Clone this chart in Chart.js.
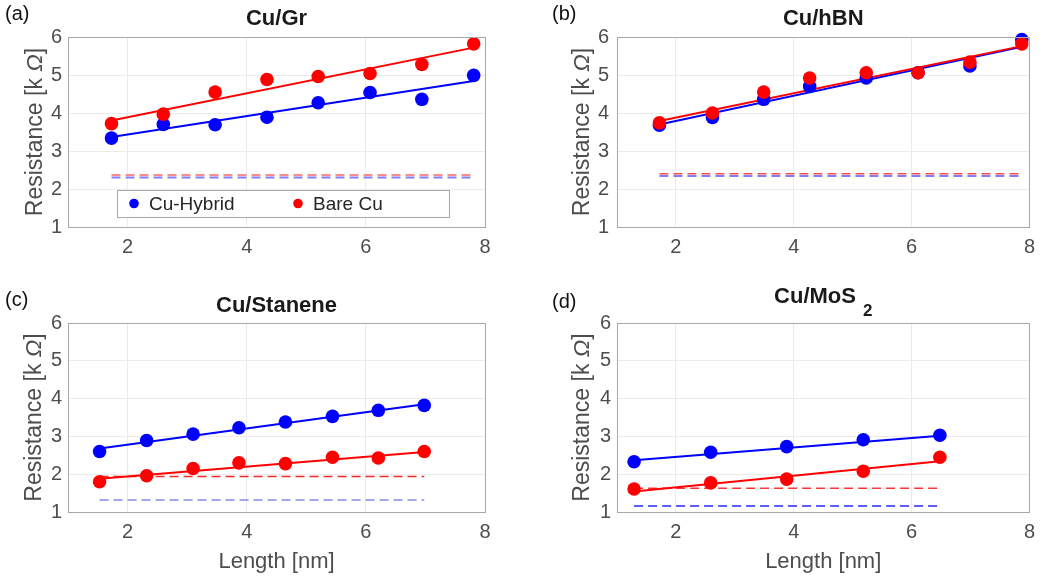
<!DOCTYPE html>
<html>
<head>
<meta charset="utf-8">
<script src="https://cdn.jsdelivr.net/npm/chart.js@4.4.1/dist/chart.umd.min.js"></script>
<style>
  body { margin: 0; background: #fff; }
  canvas { position: absolute; }
</style>
</head>
<body>
<canvas id="cA" width="520" height="280" style="left:0;top:0"></canvas>
<canvas id="cB" width="523" height="280" style="left:520px;top:0"></canvas>
<canvas id="cC" width="520" height="299" style="left:0;top:280px"></canvas>
<canvas id="cD" width="523" height="299" style="left:520px;top:280px"></canvas>
<script>
const seriesNames = ['Cu-Hybrid', 'Bare Cu'];
const xTicks = [2, 4, 6, 8];
const yTicks = [1, 2, 3, 4, 5, 6];

// (a) Cu/Gr
const lenGr = [1.73, 2.6, 3.47, 4.34, 5.2, 6.07, 6.94, 7.81];
const hybridGr = [3.34, 3.70, 3.69, 3.89, 4.27, 4.54, 4.36, 4.99];
const bareGr = [3.72, 3.97, 4.55, 4.88, 4.96, 5.04, 5.28, 5.82];
const fitHybridGr = [3.37, 4.84];
const fitBareGr = [3.80, 5.72];
const refHybridGr = 2.30;
const refBareGr = 2.37;

// (b) Cu/hBN
const lenHbn = [1.72, 2.62, 3.49, 4.27, 5.23, 6.11, 6.99, 7.87];
const hybridHbn = [3.68, 3.88, 4.36, 4.70, 4.92, 5.06, 5.24, 5.93];
const bareHbn = [3.74, 4.00, 4.55, 4.92, 5.06, 5.06, 5.34, 5.82];
const fitHybridHbn = [3.70, 5.74];
const fitBareHbn = [3.79, 5.76];
const refHybridHbn = 2.34;
const refBareHbn = 2.40;

// (c) Cu/Stanene
const lenSn = [1.53, 2.32, 3.10, 3.87, 4.65, 5.44, 6.21, 6.98];
const hybridSn = [2.60, 2.89, 3.06, 3.23, 3.38, 3.53, 3.69, 3.82];
const bareSn = [1.80, 1.96, 2.15, 2.30, 2.28, 2.45, 2.43, 2.60];
const fitHybridSn = [2.68, 3.85];
const fitBareSn = [1.88, 2.59];
const refHybridSn = 1.32;
const refBareSn = 1.94;

// (d) Cu/MoS2
const lenMos = [1.29, 2.59, 3.88, 5.18, 6.48];
const hybridMos = [2.33, 2.58, 2.73, 2.91, 3.03];
const bareMos = [1.61, 1.77, 1.87, 2.08, 2.45];
const fitHybridMos = [2.37, 3.02];
const fitBareMos = [1.54, 2.34];
const refHybridMos = 1.16;
const refBareMos = 1.63;

const FONT = "'Liberation Sans', Arial, Helvetica, sans-serif";
const AXIS_COLOR = '#4d4d4d';

function pts(xs, ys) {
  return xs.map((x, i) => ({ x: x, y: ys[i] }));
}
function ends(xs, pair) {
  return [{ x: xs[0], y: pair[0] }, { x: xs[xs.length - 1], y: pair[1] }];
}
function flat(xs, v) {
  return [{ x: xs[0], y: v }, { x: xs[xs.length - 1], y: v }];
}

const decor = {
  id: 'decor',
  afterDraw(chart, args, o) {
    const ctx = chart.ctx;
    const a = chart.chartArea;
    const cx = (a.left + a.right) / 2;
    ctx.save();
    // axes box
    ctx.strokeStyle = '#a8a8a8';
    ctx.lineWidth = 1;
    ctx.strokeRect(Math.round(a.left) + 0.5, Math.round(a.top) + 0.5,
      Math.round(a.right - a.left), Math.round(a.bottom - a.top));

    // panel letter
    ctx.fillStyle = '#111';
    ctx.font = '20px ' + FONT;
    ctx.textAlign = 'left';
    ctx.textBaseline = 'middle';
    ctx.fillText(o.letter, o.letterX, o.letterY);

    // title
    ctx.font = 'bold 22px ' + FONT;
    ctx.fillStyle = '#1a1a1a';
    if (o.sub) {
      const w1 = ctx.measureText(o.title).width;
      ctx.font = 'bold 17px ' + FONT;
      const w2 = ctx.measureText(o.sub).width;
      const gap = 7;
      const x0 = cx - (w1 + gap + w2) / 2;
      ctx.textAlign = 'left';
      ctx.font = 'bold 22px ' + FONT;
      ctx.fillText(o.title, x0, o.titleY);
      ctx.font = 'bold 17px ' + FONT;
      ctx.fillText(o.sub, x0 + w1 + gap, o.titleY + 14);
    } else {
      ctx.textAlign = 'center';
      ctx.fillText(o.title, cx, o.titleY);
    }

    // y label with italic omega
    ctx.fillStyle = AXIS_COLOR;
    ctx.translate(o.yLabelX, (a.top + a.bottom) / 2);
    ctx.rotate(-Math.PI / 2);
    const p1 = 'Resistance [k ', p2 = '\u03A9', p3 = ']';
    ctx.font = '23px ' + FONT;
    const w1 = ctx.measureText(p1).width, w3 = ctx.measureText(p3).width;
    ctx.font = 'italic 23px ' + FONT;
    const w2 = ctx.measureText(p2).width;
    let x = -(w1 + w2 + w3) / 2;
    ctx.textAlign = 'left';
    ctx.font = '23px ' + FONT;
    ctx.fillText(p1, x, 0);
    ctx.font = 'italic 23px ' + FONT;
    ctx.fillText(p2, x + w1, 0);
    ctx.font = '23px ' + FONT;
    ctx.fillText(p3, x + w1 + w2, 0);
    ctx.restore();

    // x label
    if (o.xLabel) {
      ctx.save();
      ctx.fillStyle = AXIS_COLOR;
      ctx.font = '22px ' + FONT;
      ctx.textAlign = 'center';
      ctx.textBaseline = 'middle';
      ctx.fillText(o.xLabel, cx, a.bottom + 50);
      ctx.restore();
    }

    // legend
    if (o.legend) {
      const lx = a.left + 49, ly = a.top + 153, lw = 332, lh = 27;
      ctx.save();
      ctx.fillStyle = '#fff';
      ctx.fillRect(lx, ly, lw, lh);
      ctx.strokeStyle = '#a8a8a8';
      ctx.strokeRect(lx + 0.5, ly + 0.5, lw, lh);
      ctx.font = '19px ' + FONT;
      ctx.textBaseline = 'middle';
      ctx.textAlign = 'left';
      const items = [
        { off: 17, color: chart.data.datasets[1].backgroundColor, text: chart.data.datasets[1].label },
        { off: 181, color: chart.data.datasets[0].backgroundColor, text: chart.data.datasets[0].label }
      ];
      items.forEach(it => {
        ctx.fillStyle = it.color;
        ctx.beginPath();
        ctx.arc(lx + it.off, ly + lh / 2, 4.8, 0, Math.PI * 2);
        ctx.fill();
        ctx.fillStyle = '#262626';
        ctx.fillText(it.text, lx + it.off + 15, ly + lh / 2 + 1);
      });
      ctx.restore();
    }
  }
};

function makePanel(id, d) {
  const canvas = document.getElementById(id);
  const W = canvas.width, H = canvas.height;
  const tickFont = { family: FONT, size: 20 };
  new Chart(canvas.getContext('2d'), {
    type: 'scatter',
    data: {
      datasets: [
        { label: seriesNames[1], data: pts(d.len, d.bare), backgroundColor: '#ff0000',
          pointRadius: 6.8, pointBorderWidth: 0, order: 0, clip: false },
        { label: seriesNames[0], data: pts(d.len, d.hybrid), backgroundColor: '#0000ff',
          pointRadius: 6.8, pointBorderWidth: 0, order: 1, clip: false },
        { label: 'fit bare', data: ends(d.len, d.fitBare), showLine: true, borderColor: '#ff0000',
          borderWidth: 2, pointRadius: 0, order: 2 },
        { label: 'fit hybrid', data: ends(d.len, d.fitHybrid), showLine: true, borderColor: '#0000ff',
          borderWidth: 2, pointRadius: 0, order: 3 },
        { label: 'ref bare', data: flat(d.len, d.refBare), showLine: true, borderColor: d.refColors[1],
          borderWidth: d.refWidth, borderDash: [9, 5], pointRadius: 0, order: 4 },
        { label: 'ref hybrid', data: flat(d.len, d.refHybrid), showLine: true, borderColor: d.refColors[0],
          borderWidth: d.refWidth, borderDash: [9, 5], pointRadius: 0, order: 5 }
      ]
    },
    options: {
      responsive: false,
      animation: false,
      devicePixelRatio: 1,
      layout: { padding: { left: 0, top: d.top, right: W - d.right, bottom: 0 } },
      plugins: {
        legend: { display: false },
        tooltip: { enabled: false },
        decor: d.decor
      },
      scales: {
        x: {
          type: 'linear', min: 1, max: 8,
          afterBuildTicks: s => { s.ticks = xTicks.map(v => ({ value: v })); },
          afterFit: s => { s.height = H - d.bottom; },
          grid: { color: '#ebebeb', drawTicks: false },
          border: { display: false },
          ticks: { font: tickFont, color: AXIS_COLOR, padding: 8, maxRotation: 0 }
        },
        y: {
          type: 'linear', min: 1, max: 6,
          afterBuildTicks: s => { s.ticks = yTicks.map(v => ({ value: v })); },
          afterFit: s => { s.width = d.left; },
          grid: { color: '#ebebeb', drawTicks: false },
          border: { display: false },
          ticks: { font: tickFont, color: AXIS_COLOR, padding: d.yPad }
        }
      }
    },
    plugins: [decor]
  });
}

makePanel('cA', {
  len: lenGr, hybrid: hybridGr, bare: bareGr, fitHybrid: fitHybridGr, fitBare: fitBareGr,
  refHybrid: refHybridGr, refBare: refBareGr, refColors: ['#8080ff', '#ff8c8c'], refWidth: 2,
  left: 68, right: 485, top: 37, bottom: 227, yPad: 6,
  decor: { letter: '(a)', letterX: 5, letterY: 14, title: 'Cu/Gr', titleY: 19, yLabelX: 36, legend: true }
});
makePanel('cB', {
  len: lenHbn, hybrid: hybridHbn, bare: bareHbn, fitHybrid: fitHybridHbn, fitBare: fitBareHbn,
  refHybrid: refHybridHbn, refBare: refBareHbn, refColors: ['#5555ff', '#ff4a4a'], refWidth: 1.5,
  left: 97, right: 512, top: 37, bottom: 227, yPad: 8,
  decor: { letter: '(b)', letterX: 32, letterY: 14, title: 'Cu/hBN', titleY: 19, yLabelX: 63 }
});
makePanel('cC', {
  len: lenSn, hybrid: hybridSn, bare: bareSn, fitHybrid: fitHybridSn, fitBare: fitBareSn,
  refHybrid: refHybridSn, refBare: refBareSn, refColors: ['#8888ee', '#ee2a2a'], refWidth: 1.5,
  left: 68, right: 485, top: 43, bottom: 232, yPad: 6,
  decor: { letter: '(c)', letterX: 5, letterY: 20, title: 'Cu/Stanene', titleY: 26, yLabelX: 35,
    xLabel: 'Length [nm]' }
});
makePanel('cD', {
  len: lenMos, hybrid: hybridMos, bare: bareMos, fitHybrid: fitHybridMos, fitBare: fitBareMos,
  refHybrid: refHybridMos, refBare: refBareMos, refColors: ['#2a2aff', '#ff3535'], refWidth: 1.5,
  left: 97, right: 512, top: 43, bottom: 232, yPad: 6,
  decor: { letter: '(d)', letterX: 32, letterY: 22, title: 'Cu/MoS', sub: '2', titleY: 17, yLabelX: 63,
    xLabel: 'Length [nm]' }
});
</script>
</body>
</html>
